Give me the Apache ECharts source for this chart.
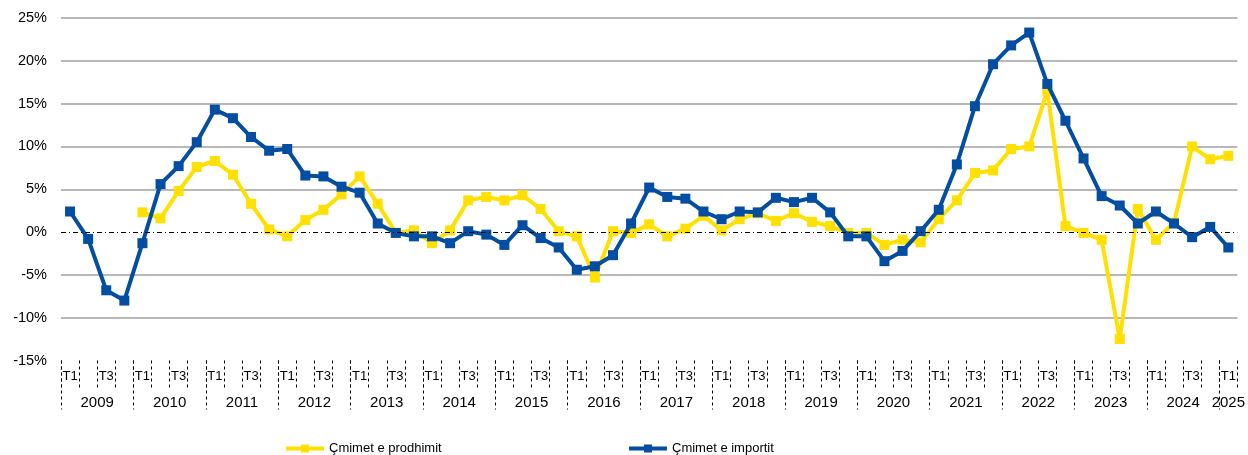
<!DOCTYPE html>
<html>
<head>
<meta charset="utf-8">
<script src="https://cdn.jsdelivr.net/npm/echarts@6/dist/echarts.min.js"></script>
<style>
  html, body { margin: 0; padding: 0; background: #fff; }
  #chart { width: 1248px; height: 455px; }
</style>
</head>
<body>
<div id="chart"></div>
<script>
// years on the axis and how many quarters each one has in the data
var years = ['2009', '2010', '2011', '2012', '2013', '2014', '2015', '2016', '2017',
             '2018', '2019', '2020', '2021', '2022', '2023', '2024', '2025'];
var quartersPerYear = [4, 4, 4, 4, 4, 4, 4, 4, 4, 4, 4, 4, 4, 4, 4, 4, 1];
var quarterNames = ['T1', 'T2', 'T3', 'T4'];
var shownQuarters = ['T1', 'T3'];

// Çmimet e prodhimit (annual change, %), 2009 T1 .. 2025 T1
var producerPrices = [
  null, null, null, null,
  2.3, 1.6, 4.8, 7.6,
  8.3, 6.7, 3.3, 0.3,
  -0.5, 1.4, 2.6, 4.4,
  6.5, 3.3, -0.1, 0.2,
  -1.3, 0.2, 3.7, 4.1,
  3.7, 4.3, 2.7, 0.1,
  -0.5, -5.3, 0.1, -0.1,
  0.9, -0.5, 0.4, 1.9,
  0.2, 1.5, 2.2, 1.3,
  2.2, 1.2, 0.7, -0.1,
  -0.1, -1.5, -0.9, -1.2,
  1.5, 3.7, 6.9, 7.2,
  9.7, 10.0, 16.5, 0.7,
  -0.1, -0.9, -12.5, 2.7,
  -0.9, 1.1, 10.0, 8.5,
  8.9
];

// Çmimet e importit (annual change, %), 2009 T1 .. 2025 T1
var importPrices = [
  2.4, -0.8, -6.8, -8.0,
  -1.3, 5.6, 7.7, 10.5,
  14.3, 13.3, 11.1, 9.5,
  9.7, 6.6, 6.5, 5.3,
  4.6, 1.0, -0.1, -0.5,
  -0.5, -1.3, 0.1, -0.3,
  -1.5, 0.8, -0.7, -1.8,
  -4.4, -4.0, -2.7, 1.0,
  5.2, 4.1, 3.9, 2.4,
  1.5, 2.4, 2.3, 4.0,
  3.5, 4.0, 2.3, -0.5,
  -0.5, -3.4, -2.2, 0.1,
  2.6, 7.9, 14.7, 19.6,
  21.8, 23.3, 17.3, 13.0,
  8.6, 4.2, 3.1, 1.0,
  2.4, 1.0, -0.6, 0.6,
  -1.8
];

// build the category list, year separators and year label positions
var categories = [];
var yearStarts = [];
var yearCenters = [];
years.forEach(function (y, k) {
  yearStarts.push(categories.length);
  yearCenters.push(categories.length + quartersPerYear[k] / 2);
  for (var q = 0; q < quartersPerYear[k]; q++) {
    categories.push(y + '-' + quarterNames[q]);
  }
});

var font = 'Liberation Sans, Arial, sans-serif';
var legendFont = 'Liberation Sans Narrow, Arial Narrow, ' + font;
var yellow = '#FFE000';
var blue = '#034EA2';
var gridGray = '#A0A0A0';

function legendFor(name, left) {
  return {
    data: [name],
    left: left, top: 437,
    itemWidth: 38, itemHeight: 10, itemGap: 6,
    lineStyle: { width: 4 },
    textStyle: { fontFamily: legendFont, fontSize: 13, color: '#000' }
  };
}

var chart = echarts.init(document.getElementById('chart'));
chart.setOption({
  animation: false,
  grid: { left: 61, right: 10, top: 18, bottom: 94.5, containLabel: false },
  legend: [
    legendFor('Çmimet e prodhimit', 279),
    legendFor('Çmimet e importit', 622)
  ],
  xAxis: [
    {
      type: 'category',
      data: categories,
      boundaryGap: true,
      position: 'bottom',
      axisLine: { show: false, onZero: false },
      axisTick: {
        show: true, interval: 0, length: 27,
        lineStyle: { color: '#000', width: 1, type: [3, 3] }
      },
      axisLabel: {
        interval: 0, margin: 9,
        fontFamily: font, fontSize: 13, color: '#000',
        formatter: function (v) {
          var q = v.split('-')[1];
          return shownQuarters.indexOf(q) >= 0 ? q : '';
        }
      },
      splitLine: { show: false }
    },
    {
      type: 'value',
      min: 0, max: categories.length,
      position: 'bottom',
      axisLine: { show: false, onZero: false },
      splitLine: { show: false },
      axisTick: {
        show: true, length: 49, customValues: yearStarts,
        lineStyle: { color: '#000', width: 1, type: [3, 3] }
      },
      axisLabel: {
        customValues: yearCenters, margin: 35,
        fontFamily: font, fontSize: 15, color: '#000',
        formatter: function (v) {
          return years[yearCenters.indexOf(v)];
        }
      }
    }
  ],
  yAxis: {
    type: 'value',
    min: -15, max: 25, interval: 5,
    axisLine: { show: false },
    axisTick: { show: false },
    axisLabel: {
      margin: 14, fontFamily: font, fontSize: 14.5, color: '#000',
      formatter: '{value}%'
    },
    splitLine: {
      lineStyle: {
        color: ['transparent', gridGray, gridGray, 'transparent', gridGray,
                gridGray, gridGray, gridGray, gridGray],
        width: 1.5
      }
    }
  },
  series: [
    {
      name: 'Çmimet e prodhimit',
      type: 'line',
      data: producerPrices,
      symbol: 'rect', symbolSize: 10,
      lineStyle: { color: yellow, width: 4 },
      itemStyle: { color: yellow },
      markLine: {
        silent: true, symbol: 'none', label: { show: false },
        lineStyle: { color: '#000', width: 1.2, type: [5, 3, 1, 3] },
        data: [{ yAxis: 0 }]
      },
      z: 2
    },
    {
      name: 'Çmimet e importit',
      type: 'line',
      data: importPrices,
      symbol: 'rect', symbolSize: 10,
      lineStyle: { color: blue, width: 4 },
      itemStyle: { color: blue },
      z: 3
    }
  ]
});
</script>
</body>
</html>
